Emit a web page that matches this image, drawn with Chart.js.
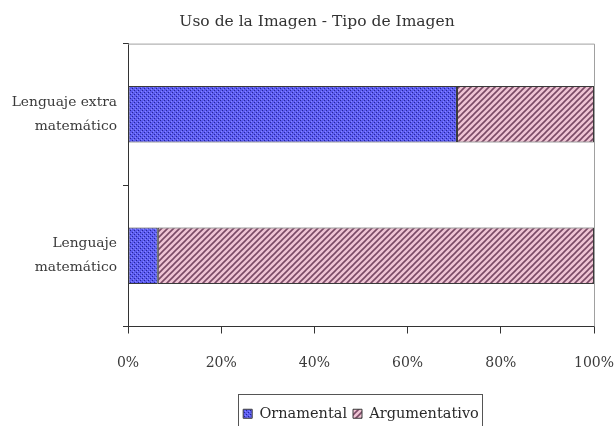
<!doctype html>
<html>
<head>
<meta charset="utf-8" />
<script src="https://cdn.jsdelivr.net/npm/chart.js@4/dist/chart.umd.min.js"></script>
<style>
  html, body { margin: 0; padding: 0; background: #fff; }
  #wrap { width: 616px; height: 426px; }
</style>
</head>
<body>
<div id="wrap"><canvas id="c" width="616" height="426"></canvas></div>
<script>
  const categories = [["Lenguaje extra", "matemático"], ["Lenguaje", "matemático"]];
  const ornamental = [70.6, 6.4];
  const argumentativo = [29.4, 93.6];
  const xTicks = [0, 20, 40, 60, 80, 100];

  const FONT = "'DejaVu Serif', 'Liberation Serif', serif";

  function dotPattern() {
    const p = document.createElement("canvas");
    p.width = 4; p.height = 4;
    const g = p.getContext("2d");
    g.fillStyle = "#5c5cf0";
    g.fillRect(0, 0, 4, 4);
    g.fillStyle = "#25259a";
    g.fillRect(0, 0, 1, 1);
    g.fillRect(2, 2, 1, 1);
    g.fillStyle = "#8888ff";
    g.fillRect(1, 3, 1, 1);
    g.fillRect(3, 1, 1, 1);
    return g.createPattern(p, "repeat");
  }

  function stripePattern() {
    const p = document.createElement("canvas");
    p.width = 6; p.height = 6;
    const g = p.getContext("2d");
    g.fillStyle = "#efc4d4";
    g.fillRect(0, 0, 6, 6);
    g.strokeStyle = "#7a4a66";
    g.lineWidth = 1.6;
    g.beginPath();
    g.moveTo(-1, 7); g.lineTo(7, -1);
    g.moveTo(-4, 4); g.lineTo(4, -4);
    g.moveTo(2, 10); g.lineTo(10, 2);
    g.stroke();
    return g.createPattern(p, "repeat");
  }

  // light frame on top/right of the plot and a box round the legend
  const framePlugin = {
    id: "frame",
    afterLayout(chart) {
      // let the category labels run past the left padding without being clipped
      chart.scales.y.left = 0;
    },
    afterDraw(chart) {
      const { ctx, chartArea: a, legend } = chart;
      ctx.save();
      ctx.strokeStyle = "#a0a0a0";
      ctx.lineWidth = 1;
      ctx.beginPath();
      ctx.moveTo(a.left, a.top + 0.5);
      ctx.lineTo(a.right + 0.5, a.top + 0.5);
      ctx.lineTo(a.right + 0.5, a.bottom);
      ctx.stroke();
      if (legend && legend.legendHitBoxes.length) {
        const hb = legend.legendHitBoxes;
        const l = Math.min(...hb.map(b => b.left)) - 5;
        const r = Math.max(...hb.map(b => b.left + b.width)) + 3;
        const t = Math.min(...hb.map(b => b.top)) - 13;
        ctx.strokeStyle = "#555";
        ctx.strokeRect(Math.round(l) + 0.5, Math.round(t) + 0.5, Math.round(r - l), 60);
      }
      ctx.restore();
    }
  };

  new Chart(document.getElementById("c"), {
    type: "bar",
    data: {
      labels: categories,
      datasets: [
        { label: "Ornamental", data: ornamental, backgroundColor: dotPattern(),
          borderColor: "#3a3a3a", borderWidth: 1, borderSkipped: false },
        { label: "Argumentativo", data: argumentativo, backgroundColor: stripePattern(),
          borderColor: "#3a3a3a", borderWidth: 1, borderSkipped: false }
      ]
    },
    options: {
      indexAxis: "y",
      responsive: false,
      animation: false,
      layout: { padding: { left: 40, right: 22, top: 0, bottom: -5 } },
      datasets: { bar: { categoryPercentage: 1, barPercentage: 0.4 } },
      scales: {
        x: {
          stacked: true, min: 0, max: 100,
          afterBuildTicks(s) { s.ticks = xTicks.map(v => ({ value: v })); },
          border: { color: "#333", width: 1 },
          grid: { drawOnChartArea: false, color: "#333", tickLength: 7 },
          ticks: { color: "#3a3a3a", padding: 21, font: { family: FONT, size: 14 },
                   callback: v => v + "%" },
          afterFit(s) { s.height = 74; s.paddingLeft = 0; s.paddingRight = 0; }
        },
        y: {
          stacked: true,
          border: { color: "#333", width: 1 },
          grid: { drawOnChartArea: false, color: "#333", tickLength: 5, offset: true },
          ticks: { color: "#3a3a3a", padding: 6, font: { family: FONT, size: 13.8, lineHeight: 1.75 } },
          afterFit(s) { s.width = 88; }
        }
      },
      plugins: {
        title: {
          display: true, text: "Uso de la Imagen - Tipo de Imagen", color: "#333",
          font: { family: FONT, size: 15.5, weight: "normal" },
          padding: { top: 13, bottom: 12 }
        },
        legend: {
          position: "bottom",
          fullSize: false,
          labels: { color: "#2a2a2a", boxWidth: 9, boxHeight: 9, padding: 6,
                    font: { family: FONT, size: 14.5 } }
        },
        tooltip: { enabled: false }
      }
    },
    plugins: [framePlugin]
  });
</script>
</body>
</html>
